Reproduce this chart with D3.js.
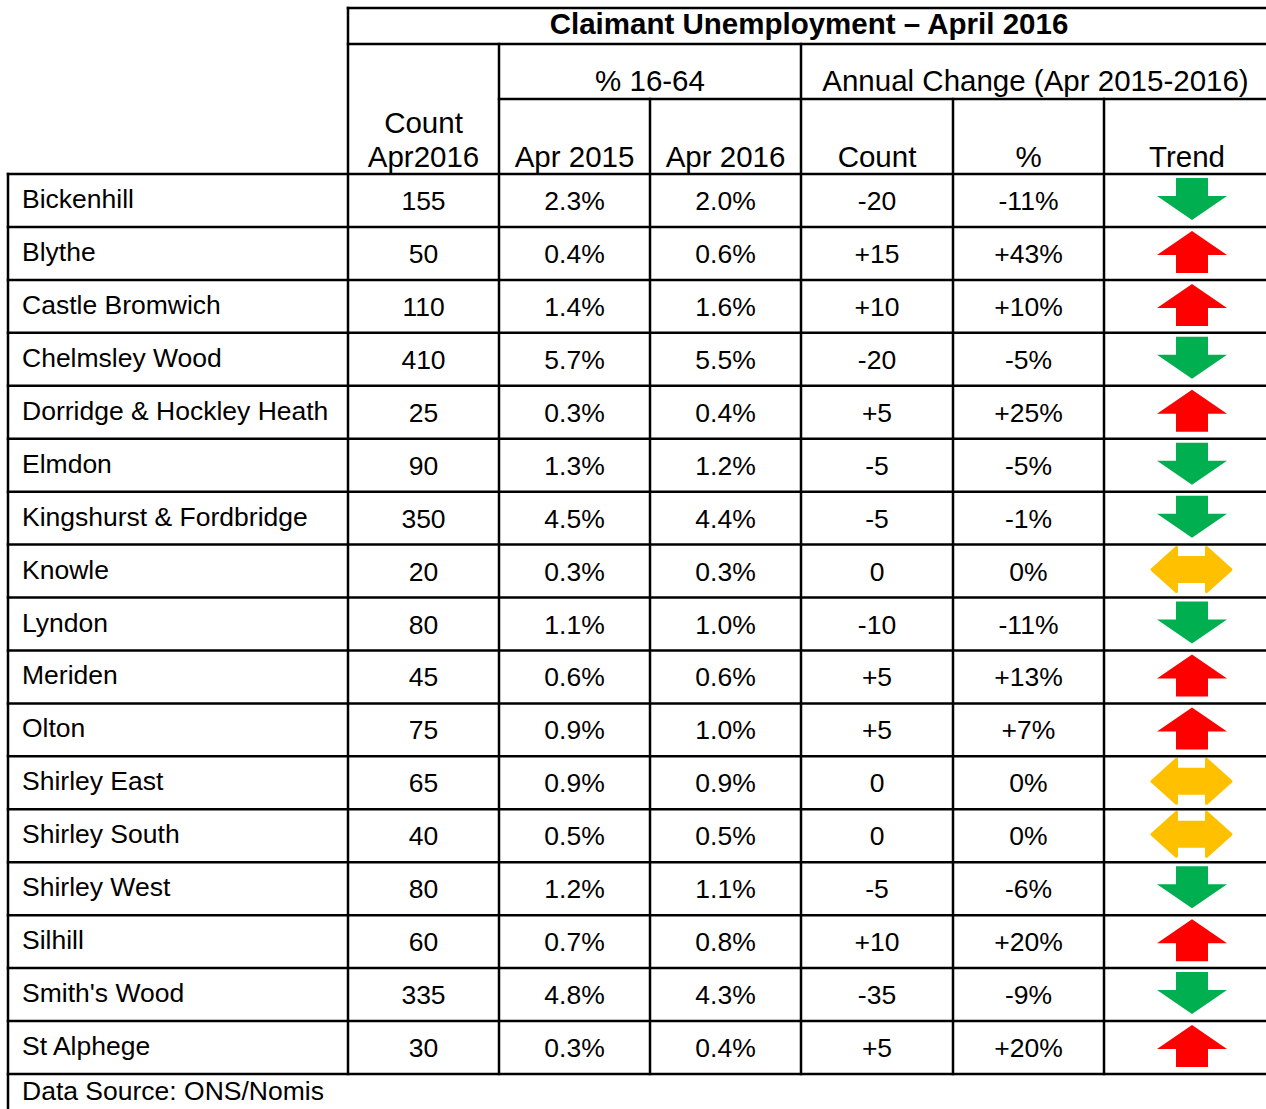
<!DOCTYPE html>
<html>
<head>
<meta charset="utf-8">
<script src="https://cdn.jsdelivr.net/npm/d3@7"></script>
<style>
  body { margin: 0; background: #fff; }
  svg { display: block; font-family: "Liberation Sans", Arial, sans-serif; }
</style>
</head>
<body>
<div id="chart"></div>
<script>
// data
const wards = ['Bickenhill', 'Blythe', 'Castle Bromwich', 'Chelmsley Wood', 'Dorridge & Hockley Heath',
  'Elmdon', 'Kingshurst & Fordbridge', 'Knowle', 'Lyndon', 'Meriden', 'Olton', 'Shirley East',
  'Shirley South', 'Shirley West', 'Silhill', "Smith's Wood", 'St Alphege'];
const countApr2016 = [155, 50, 110, 410, 25, 90, 350, 20, 80, 45, 75, 65, 40, 80, 60, 335, 30];
const pctApr2015 = ['2.3%', '0.4%', '1.4%', '5.7%', '0.3%', '1.3%', '4.5%', '0.3%', '1.1%', '0.6%', '0.9%', '0.9%', '0.5%', '1.2%', '0.7%', '4.8%', '0.3%'];
const pctApr2016 = ['2.0%', '0.6%', '1.6%', '5.5%', '0.4%', '1.2%', '4.4%', '0.3%', '1.0%', '0.6%', '1.0%', '0.9%', '0.5%', '1.1%', '0.8%', '4.3%', '0.4%'];
const changeCount = ['-20', '+15', '+10', '-20', '+5', '-5', '-5', '0', '-10', '+5', '+5', '0', '0', '-5', '+10', '-35', '+5'];
const changePct = ['-11%', '+43%', '+10%', '-5%', '+25%', '-5%', '-1%', '0%', '-11%', '+13%', '+7%', '0%', '0%', '-6%', '+20%', '-9%', '+20%'];
const trend = ['down', 'up', 'up', 'down', 'up', 'down', 'down', 'flat', 'down', 'up', 'up', 'flat', 'flat', 'down', 'up', 'down', 'up'];

const title = 'Claimant Unemployment \u2013 April 2016';
const source = 'Data Source: ONS/Nomis';

const width = 1266, height = 1109;
const colEdges = [8, 348, 499, 650, 801, 953, 1104, 1270];
const fs = 26.5;   // body text
const hfs = 29.5;  // header text

const svg = d3.select('#chart').append('svg')
  .attr('width', width)
  .attr('height', height);

// rows
const y = d3.scaleBand()
  .domain(wards)
  .range([174, 1074]);

const colMid = i => (colEdges[i] + colEdges[i + 1]) / 2;

const rows = wards.map((w, i) => ({
  name: w,
  cells: [countApr2016[i], pctApr2015[i], pctApr2016[i], changeCount[i], changePct[i]],
  trend: trend[i]
}));

const body = svg.append('g');

const row = body.selectAll('g.row')
  .data(rows)
  .enter()
  .append('g')
  .attr('class', 'row')
  .attr('transform', d => `translate(0, ${y(d.name)})`);

row.append('text')
  .attr('x', 22)
  .attr('y', 34)
  .attr('font-size', fs)
  .text(d => d.name);

row.selectAll('text.val')
  .data(d => d.cells)
  .enter()
  .append('text')
  .attr('class', 'val')
  .attr('x', (d, i) => colMid(i + 1))
  .attr('y', 36)
  .attr('text-anchor', 'middle')
  .attr('font-size', fs)
  .text(d => d);

// trend arrows
const arrowPath = t => {
  if (t === 'down') return 'M-16,-21 L16,-21 L16,-3 L35,-3 L0,21 L-35,-3 L-16,-3 Z';
  if (t === 'up') return 'M-16,21 L16,21 L16,3 L35,3 L0,-21 L-35,3 L-16,3 Z';
  return 'M-39.5,0 L-15,-22 L-15,-12 L15,-12 L15,-22 L39.5,0 L15,22 L15,12 L-15,12 L-15,22 Z';
};
const arrowColor = { down: '#00b050', up: '#ff0000', flat: '#ffc000' };

row.append('path')
  .attr('transform', d => `translate(${d.trend === 'flat' ? 1191.5 : 1192}, 25)`)
  .attr('d', d => arrowPath(d.trend))
  .attr('fill', d => arrowColor[d.trend])
  .attr('stroke', d => arrowColor[d.trend])
  .attr('stroke-width', d => d.trend === 'flat' ? 3 : 0)
  .attr('stroke-linejoin', 'round');

// header text
const head = svg.append('g').attr('font-size', hfs).attr('text-anchor', 'middle');
head.append('text').attr('x', 809).attr('y', 34).attr('font-weight', 'bold').text(title);
head.append('text').attr('x', colMid(1)).attr('y', 133).text('Count');
head.append('text').attr('x', colMid(1)).attr('y', 167).text('Apr2016');
head.append('text').attr('x', 650).attr('y', 91).text('% 16-64');
head.append('text').attr('x', 1035.5).attr('y', 91).text('Annual Change (Apr 2015-2016)');
['Apr 2015', 'Apr 2016', 'Count', '%', 'Trend'].forEach((t, i) => {
  head.append('text').attr('x', colMid(i + 2)).attr('y', 167).text(t);
});

svg.append('text')
  .attr('x', 22)
  .attr('y', 1100)
  .attr('font-size', fs)
  .text(source);

// grid lines
const lines = [
  [348, 8, 1270, 8], [348, 44, 1270, 44], [499, 99, 1270, 99],
  [348, 8, 348, 1074], [499, 44, 499, 1074], [650, 99, 650, 1074],
  [801, 44, 801, 1074], [953, 99, 953, 1074], [1104, 99, 1104, 1074],
  [8, 174, 8, 1109]
];
wards.forEach(w => lines.push([8, y(w), 1270, y(w)]));
lines.push([8, y.range()[1], 1270, y.range()[1]]);

svg.append('g')
  .selectAll('line')
  .data(lines)
  .enter()
  .append('line')
  .attr('x1', d => d[0]).attr('y1', d => d[1])
  .attr('x2', d => d[2]).attr('y2', d => d[3])
  .attr('stroke', '#000')
  .attr('stroke-width', 2.5)
  .attr('stroke-linecap', 'square');
</script>
</body>
</html>
